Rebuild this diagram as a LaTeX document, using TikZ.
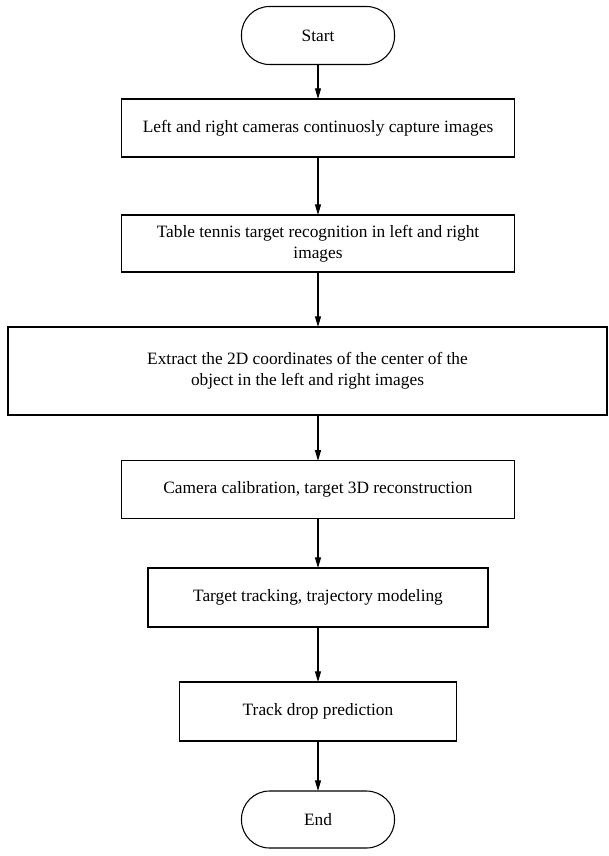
\documentclass[tikz,border=0pt]{standalone}
\usepackage{fontspec}
\setmainfont{Liberation Serif}
\usetikzlibrary{arrows.meta}
\begin{document}
\begin{tikzpicture}[x=0.75pt,y=-0.75pt,
  box/.style={draw,line width=0.8pt,inner sep=0pt,outer sep=0pt,align=center,
    font=\fontsize{13}{15.5}\selectfont},
  term/.style={box,rounded corners=21pt},
  flow/.style={line width=0.8pt,-{Triangle[length=8pt,width=4.5pt]}}]
\useasboundingbox (0,0) rectangle (608,856);

%terminals
\node[term,minimum width=114.75pt,minimum height=43.5pt] (start) at (318,35.5) {Start};
\node[term,minimum width=114.75pt,minimum height=42.75pt] (stop) at (318,819.5) {End};

%steps
\node[box,minimum width=294.75pt,minimum height=43.5pt] (capture) at (318,128)
  {Left and right cameras continuosly capture images};
\node[box,minimum width=294.75pt,minimum height=42.75pt] (recog) at (318,243.5)
  {Table tennis target recognition in left and right\\images};
\node[box,minimum width=449.25pt,minimum height=66pt] (extract) at (307.5,371)
  {Extract the 2D coordinates of the center of the\\object in the left and right images};
\node[box,minimum width=294.75pt,minimum height=43pt] (calib) at (318,489.5)
  {Camera calibration, target 3D reconstruction};
\node[box,minimum width=255pt,minimum height=44.25pt] (track) at (318,597.5)
  {Target tracking, trajectory modeling};
\node[box,minimum width=207.75pt,minimum height=44.25pt] (drop) at (318,711.5)
  {Track drop prediction};

%arrows
\draw[flow] (start) -- (capture);
\draw[flow] (capture) -- (recog);
\draw[flow] (recog.south) -- (recog.south |- extract.north);
\draw[flow] (recog.south |- extract.south) -- (calib.north);
\draw[flow] (calib) -- (track);
\draw[flow] (track) -- (drop);
\draw[flow] (drop) -- (stop);

\end{tikzpicture}
\end{document}
